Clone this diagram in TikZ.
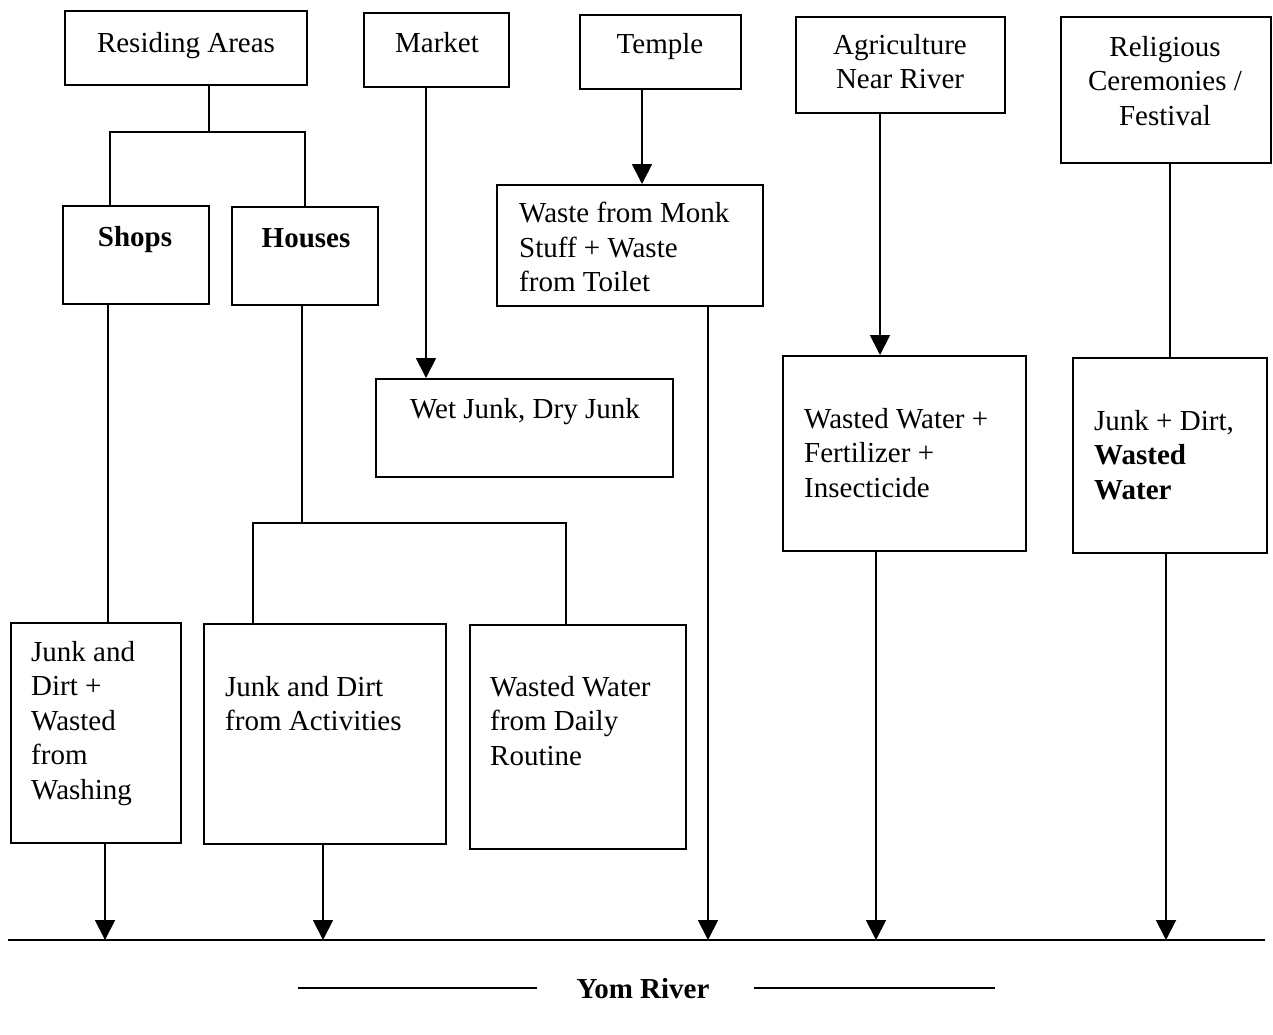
\documentclass[tikz,border=0pt]{standalone}
\usepackage{fontspec}
\setmainfont{Liberation Serif}
\usetikzlibrary{arrows.meta}
\begin{document}
\begin{tikzpicture}[x=1pt,y=-1pt,
  box/.style={draw, line width=1.8pt, inner sep=0pt, anchor=north west},
  txt/.style={font=\fontsize{29}{34.5}\selectfont, inner sep=0pt},
  btxt/.style={font=\fontsize{29}{34.5}\selectfont\bfseries, inner sep=0pt},
  conn/.style={line width=1.8pt},
  arr/.style={line width=1.8pt, -{Triangle[length=20pt,width=20pt]}}]
\useasboundingbox (0,0) rectangle (1273,1034);
% top boxes
\node[box, minimum width=242pt, minimum height=74pt] (res) at (64,10) {};
\node[box, minimum width=145pt, minimum height=74pt] (mkt) at (363,12) {};
\node[box, minimum width=161pt, minimum height=74pt] (tmp) at (579,14) {};
\node[box, minimum width=209pt, minimum height=96pt] (agr) at (795,16) {};
\node[box, minimum width=210pt, minimum height=146pt] (rel) at (1060,16) {};
% second level
\node[box, minimum width=146pt, minimum height=98pt] (shops) at (62,205) {};
\node[box, minimum width=146pt, minimum height=98pt] (houses) at (231,206) {};
\node[box, minimum width=266pt, minimum height=121pt] (monk) at (496,184) {};
\node[box, minimum width=297pt, minimum height=98pt] (wet) at (375,378) {};
\node[box, minimum width=243pt, minimum height=195pt] (agrout) at (782,355) {};
\node[box, minimum width=194pt, minimum height=195pt] (relout) at (1072,357) {};
% bottom boxes
\node[box, minimum width=170pt, minimum height=220pt] (wash) at (10,622) {};
\node[box, minimum width=242pt, minimum height=220pt] (act) at (203,623) {};
\node[box, minimum width=216pt, minimum height=224pt] (daily) at (469,624) {};
% texts
\node[txt, anchor=base] (tres) at (186,52) {Residing Areas};
\node[txt, anchor=base] (tmkt) at (437,52) {Market};
\node[txt, anchor=base] (ttmp) at (660,53) {Temple};
\node[txt, anchor=north, align=center] (tagr) at (900,34) {Agriculture\\Near River};
\node[txt, anchor=north, align=center] (trel) at (1165,36) {Religious\\Ceremonies /\\Festival};
\node[btxt, anchor=base] (tshops) at (135,246) {Shops};
\node[btxt, anchor=base] (thouses) at (306,247) {Houses};
\node[txt, anchor=north west, align=left] (tmonk) at (519,202) {Waste from Monk\\Stuff + Waste\\from Toilet};
\node[txt, anchor=base] (twet) at (525,418) {Wet Junk, Dry Junk};
\node[txt, anchor=north west, align=left] (tagrout) at (804,408) {Wasted Water +\\Fertilizer +\\Insecticide};
\node[txt, anchor=north west, align=left] (trelout) at (1094,410) {Junk + Dirt,\\\textbf{Wasted}\\\textbf{Water}};
\node[txt, anchor=north west, align=left] (twash) at (31,641) {Junk and\\Dirt +\\Wasted\\from\\Washing};
\node[txt, anchor=north west, align=left] (tact) at (225,676) {Junk and Dirt\\from Activities};
\node[txt, anchor=north west, align=left] (tdaily) at (490,676) {Wasted Water\\from Daily\\Routine};
\node[btxt, anchor=base] (yom) at (643,998) {Yom River};
% junctions
\coordinate (jr) at (209,132);
\coordinate (jh) at (302,523);
\coordinate (rl) at (8,940);
\coordinate (rr) at (1265,940);
\coordinate (y1a) at (298,988);
\coordinate (y1b) at (537,988);
\coordinate (y2a) at (754,988);
\coordinate (y2b) at (995,988);
% connectors
\draw[conn] (209,0 |- res.south) -- (jr);
\draw[conn] (110,0 |- shops.north) -- (110,0 |- jr) -- (305,0 |- jr) -- (305,0 |- houses.north);
\draw[arr] (426,0 |- mkt.south) -- (426,0 |- wet.north);
\draw[arr] (642,0 |- tmp.south) -- (642,0 |- monk.north);
\draw[arr] (880,0 |- agr.south) -- (880,0 |- agrout.north);
\draw[conn] (1170,0 |- rel.south) -- (1170,0 |- relout.north);
\draw[conn] (108,0 |- shops.south) -- (108,0 |- wash.north);
\draw[conn] (302,0 |- houses.south) -- (jh);
\draw[conn] (253,0 |- act.north) -- (253,0 |- jh) -- (566,0 |- jh) -- (566,0 |- daily.north);
\draw[arr] (105,0 |- wash.south) -- (105,0 |- rl);
\draw[arr] (323,0 |- act.south) -- (323,0 |- rl);
\draw[arr] (708,0 |- monk.south) -- (708,0 |- rl);
\draw[arr] (876,0 |- agrout.south) -- (876,0 |- rl);
\draw[arr] (1166,0 |- relout.south) -- (1166,0 |- rl);
\draw[conn] (rl) -- (rr);
\draw[conn] (y1a) -- (y1b);
\draw[conn] (y2a) -- (y2b);
\end{tikzpicture}
\end{document}
